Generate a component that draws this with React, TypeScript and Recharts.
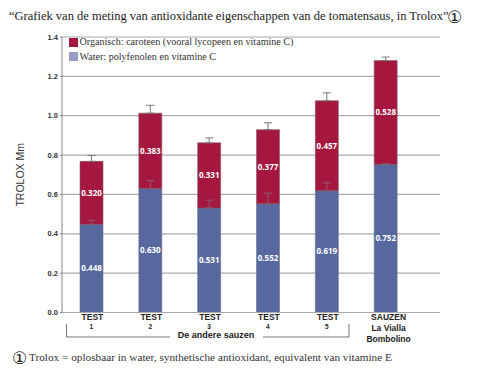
import React from 'react';
import { BarChart, Bar, XAxis, YAxis, CartesianGrid, ErrorBar, LabelList, Legend, Label } from 'recharts';

const categories = ['TEST|1', 'TEST|2', 'TEST|3', 'TEST|4', 'TEST|5', 'SAUZEN|La Vialla|Bombolino'];
const waterValues = [0.448, 0.63, 0.531, 0.552, 0.619, 0.752];
const organicValues = [0.32, 0.383, 0.331, 0.377, 0.457, 0.528];
const waterErrors = [0.02, 0.04, 0.04, 0.055, 0.04, 0.004];
const organicErrors = [0.03, 0.04, 0.025, 0.035, 0.04, 0.018];
const yTicks = [0, 0.2, 0.4, 0.6, 0.8, 1.0, 1.2, 1.4];

const titleText = '“Grafiek van de meting van antioxidante eigenschappen van de tomatensaus, in Trolox”';
const footnoteText = 'Trolox = oplosbaar in water, synthetische antioxidant, equivalent van vitamine E';
const organicName = 'Organisch: caroteen (vooral lycopeen en vitamine C)';
const waterName = 'Water: polyfenolen en vitamine C';
const groupLabel = 'De andere sauzen';

const RED = '#a5173f';
const BLUE = '#56689e';
const SERIF = '"Liberation Serif", serif';
const SANS = '"Liberation Sans", Arial, sans-serif';

const data = categories.map((name, i) => ({
  name,
  water: waterValues[i],
  organic: organicValues[i],
  waterErr: [0, waterErrors[i]],
  organicErr: [0, organicErrors[i]],
}));

// first line is big, test numbers are smaller
const XTick = (props: any) => {
  const { x, y, payload } = props;
  const lines = String(payload.value).split('|');
  const isTest = lines.length === 2;
  return (
    <g>
      {lines.map((line: string, i: number) => (
        <text
          key={line}
          x={isTest ? (i === 0 ? x + 1 : x) : x + 3}
          y={y - 1 + i * (isTest ? 9.5 : 11)}
          textAnchor="middle"
          fontFamily={SANS}
          fontWeight="bold"
          fontSize={isTest && i === 1 ? 6.5 : 8.5}
          fill="#222"
        >
          {line}
        </text>
      ))}
    </g>
  );
};

const LegendBox = () => (
  <div style={{ fontFamily: SERIF, fontSize: 10.1, color: '#333', lineHeight: '14.5px' }}>
    {[[RED, organicName], ['#9a9cc8', waterName]].map(([color, text]) => (
      <div key={text} style={{ display: 'flex', alignItems: 'center', whiteSpace: 'nowrap' }}>
        <span style={{ display: 'inline-block', width: 9, height: 9, background: color, marginRight: 1.5 }} />
        {text}
      </div>
    ))}
  </div>
);

const Circled = ({ left, top }: { left: number; top: number }) => (
  <span style={{ position: 'absolute', left, top, fontFamily: '"DejaVu Sans", sans-serif', fontSize: 17, lineHeight: '18px', color: '#222' }}>①</span>
);

const App = () => (
  <div style={{ position: 'absolute', left: 0, top: 0, width: 500, height: 374, background: '#fff', overflow: 'hidden' }}>
    <BarChart
      width={500}
      height={374}
      data={data}
      barSize={23}
      margin={{ top: 37, right: 60, bottom: 0, left: 0 }}
    >
      <CartesianGrid vertical={false} stroke="#aaaaaa" strokeWidth={1.2} />
      <XAxis
        dataKey="name"
        interval={0}
        height={61.5}
        padding={{ left: 0, right: 25 }}
        tick={<XTick />}
        tickLine={false}
        axisLine={{ stroke: '#aaaaaa', strokeWidth: 1.2 }}
      />
      <YAxis
        width={62}
        domain={[0, 1.4]}
        ticks={yTicks}
        tickFormatter={(v: number) => v.toFixed(1)}
        tick={{ fontFamily: SANS, fontWeight: 'bold', fontSize: 7.5, fill: '#333' }}
        tickSize={2}
        tickLine={{ stroke: '#888' }}
        axisLine={{ stroke: '#888' }}
      >
        <Label
          value="TROLOX Mm"
          angle={-90}
          position="insideLeft"
          offset={20}
          style={{ fontFamily: SANS, fontSize: 10.5, fill: '#333', textAnchor: 'middle' }}
        />
      </YAxis>
      <Legend
        content={<LegendBox />}
        layout="vertical"
        align="center"
        verticalAlign="middle"
        wrapperStyle={{ left: 69, top: 35, width: 320 }}
      />
      <Bar dataKey="water" name={waterName} stackId="a" fill={BLUE} stroke="#6f7488" strokeWidth={0.6} isAnimationActive={false}>
        <ErrorBar dataKey="waterErr" direction="y" width={4} stroke="#8c5a6e" strokeWidth={1} isAnimationActive={false} />
        <LabelList
          dataKey="water"
          position="center"
          formatter={(v: any) => Number(v).toFixed(3)}
          style={{ fontFamily: '"Open Sans", sans-serif', fontWeight: 'bold', fontSize: 8, fill: '#fff' }}
        />
      </Bar>
      <Bar dataKey="organic" name={organicName} stackId="a" fill={RED} stroke="#7d5a66" strokeWidth={0.6} isAnimationActive={false}>
        <ErrorBar dataKey="organicErr" direction="y" width={4} stroke="#777" strokeWidth={1} isAnimationActive={false} />
        <LabelList
          dataKey="organic"
          position="center"
          formatter={(v: any) => Number(v).toFixed(3)}
          style={{ fontFamily: '"Open Sans", sans-serif', fontWeight: 'bold', fontSize: 8, fill: '#fff' }}
        />
      </Bar>
    </BarChart>

    <div style={{ position: 'absolute', left: 9, top: 9, fontFamily: SERIF, fontSize: 12.5, color: '#222', whiteSpace: 'nowrap' }}>{titleText}</div>
    <Circled left={447} top={8} />

    {/* bracket under the five tests */}
    <svg width={500} height={374} style={{ position: 'absolute', left: 0, top: 0, pointerEvents: 'none' }}>
      <path d="M66.5 324V337H170M263 337H349V324" fill="none" stroke="#777" strokeWidth={1} />
      <text x={216} y={338} textAnchor="middle" fontFamily={SANS} fontWeight="bold" fontSize={9} fill="#222">{groupLabel}</text>
    </svg>

    <Circled left={12} top={349} />
    <div style={{ position: 'absolute', left: 29, top: 351, fontFamily: SERIF, fontSize: 11.25, color: '#333', whiteSpace: 'nowrap' }}>{footnoteText}</div>
  </div>
);

export default App;
